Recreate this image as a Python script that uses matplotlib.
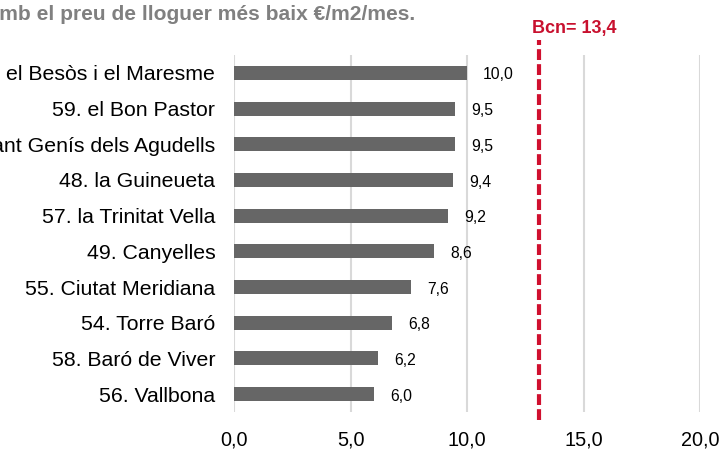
import matplotlib
matplotlib.use("Agg")
import matplotlib.pyplot as plt
import numpy as np

plt.rcParams['font.family'] = ['Liberation Sans', 'DejaVu Sans']

# barris, de dalt a baix
barris = ["el Besòs i el Maresme", "59. el Bon Pastor", "Sant Genís dels Agudells",
          "48. la Guineueta", "57. la Trinitat Vella", "49. Canyelles",
          "55. Ciutat Meridiana", "54. Torre Baró", "58. Baró de Viver",
          "56. Vallbona"]
preus = [10.0, 9.5, 9.5, 9.4, 9.2, 8.6, 7.6, 6.8, 6.2, 6.0]
xticks = [0, 5, 10, 15, 20]
bcn_pos = 13.1   # where the dashed line is drawn in the picture
bcn_label = "Bcn= 13,4"
title = "Barris amb el preu de lloguer més baix €/m2/mes."

fig = plt.figure(figsize=(7.27, 4.51), dpi=100)
ax = fig.add_axes([0.3219, 0.0865, 0.9629 - 0.3219, 0.878 - 0.0865])

y = np.arange(len(barris))
ax.barh(y, preus, height=0.39, color="#666666", zorder=3)
for yi, v in zip(y, preus):
    ax.annotate(f"{v:.1f}".replace(".", ","), (v, yi), xytext=(11.5, -1.5),
                textcoords="offset points", ha="left", va="center",
                fontsize=11.3, color="#000000", zorder=4)

ax.set_xlim(0, 20)
ax.set_ylim(len(barris) - 0.5, -0.5)
ax.set_xticks(xticks)
ax.set_xticklabels([f"{t:.1f}".replace(".", ",") for t in xticks], fontsize=14.3)
ax.set_yticks(y)
ax.set_yticklabels(barris, fontsize=15.3)
ax.tick_params(axis="both", length=0)
ax.tick_params(axis="x", pad=13)
ax.tick_params(axis="y", pad=13.5)
ax.grid(axis="x", color="#d9d9d9", linewidth=1.5, zorder=0)
for s in ax.spines.values():
    s.set_visible(False)

# línia de referència Barcelona
ax.axvline(bcn_pos, ymin=-0.022, ymax=1.042, color="#d0102f", linewidth=3,
           linestyle=(0, (2.6, 1.0)), clip_on=False, zorder=5)
ax.text(bcn_pos - 0.3, -1.25, bcn_label, color="#c8102e", fontsize=13,
        fontweight="bold", ha="left", va="center")

fig.text(415 / 727, 1 - 14 / 451, title, ha="right", va="center",
         fontsize=15.1, fontweight="bold", color="#808080")

fig.savefig("out.png", dpi=100)
